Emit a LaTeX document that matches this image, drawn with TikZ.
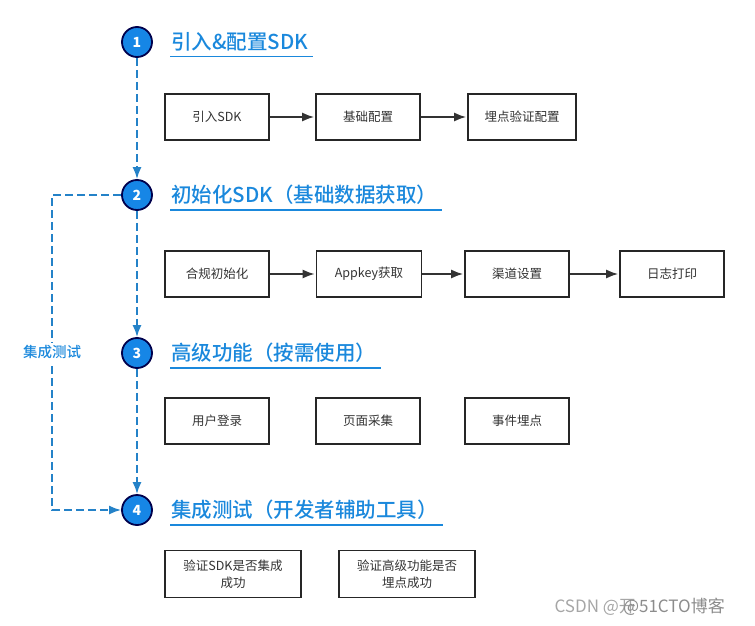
\documentclass[tikz,border=0pt]{standalone}
\usepackage{fontspec}
\setmainfont{Noto Sans CJK SC}
\newfontfamily\headfont{Noto Sans CJK SC}[UprightFont=* Medium]
\usetikzlibrary{positioning, arrows.meta, calc}
\definecolor{stepblue}{RGB}{22,134,230}
\definecolor{linkblue}{RGB}{26,136,220}
\definecolor{dashblue}{RGB}{36,130,200}
\begin{document}
\begin{tikzpicture}[x=1pt, y=-1pt,
    num/.style={circle, draw=black!70!blue, line width=1.8pt, fill=stepblue, minimum size=30pt, inner sep=0pt, text=white, font=\fontsize{14}{14}\selectfont\bfseries},
    title/.style={anchor=west, text=linkblue, font=\headfont\fontsize{20.5}{20.5}\selectfont, inner sep=1pt},
    box/.style={draw=black!85, line width=1.7pt, minimum width=104pt, minimum height=46pt, text=black!80, font=\fontsize{12.5}{17}\selectfont, align=center},
    flow/.style={-{Latex[length=12pt,width=9pt]}, line width=1.7pt, black!80, shorten >=1pt},
    link/.style={dash pattern=on 8pt off 4pt, line width=1.8pt, dashblue, -{Latex[length=12pt,width=9pt]}}]
    \useasboundingbox (0,0) rectangle (755,626);

    % steps
    \node (N1) [num] at (137,42) {1};
    \node (N2) [num] at (137,195) {2};
    \node (N3) [num] at (137,353) {3};
    \node (N4) [num] at (137,510) {4};
    \node (T1) [title] at (170,42) {引入\&配置SDK};
    \node (T2) [title] at (170,195) {初始化SDK（基础数据获取）};
    \node (T3) [title] at (170,353) {高级功能（按需使用）};
    \node (T4) [title] at (170,510) {集成测试（开发者辅助工具）};
    \foreach \t in {T1,T2,T3,T4}
        \draw [linkblue, line width=1.8pt] ($(\t.south west)+(0,4)$) -- ($(\t.south east)+(4,4)$);

    % row 1
    \node (Sdk) [box] at (217,117) {引入SDK};
    \node (Base) [box] at (368,117) {基础配置};
    \node (Track) [box, minimum width=108pt] at (522,117) {埋点验证配置};
    \draw [flow] (Sdk) -- (Base);
    \draw [flow] (Base) -- (Track);

    % row 2
    \node (Init) [box] at (217,274) {合规初始化};
    \node (Appkey) [box, minimum width=105pt] at (369,274) {Appkey获取};
    \node (Channel) [box] at (517,274) {渠道设置};
    \node (Log) [box] at (672,274) {日志打印};
    \draw [flow] (Init) -- (Appkey);
    \draw [flow] (Appkey) -- (Channel);
    \draw [flow] (Channel) -- (Log);

    % row 3
    \node (Login) [box] at (217,421) {用户登录};
    \node (Page) [box] at (368,421) {页面采集};
    \node (Event) [box] at (517,421) {事件埋点};

    % row 4
    \node (CheckSdk) [box, minimum width=136pt, minimum height=47pt] at (233,574) {验证SDK是否集成\\成功};
    \node (CheckAdv) [box, minimum width=136pt, minimum height=47pt] at (407,574) {验证高级功能是否\\埋点成功};

    % dashed links
    \draw [link] (N1) -- (N2);
    \draw [link] (N2) -- (N3);
    \draw [link] (N3) -- (N4);
    \draw [link] (N2.west) -- ++(-69,0) |- node[pos=0.25, fill=white, text=linkblue, inner sep=3pt, font=\headfont\fontsize{14.5}{14.5}\selectfont] {集成测试} (N4.west);

    % watermark
    \node (Mark) [anchor=west, text=black!35, font=\fontsize{17}{17}\selectfont] at (551,607) {CSDN @开};
    \node [anchor=west, text=black!45, font=\fontsize{17}{17}\selectfont] at ($(Mark.east)+(-20,0)$) {@51CTO博客};
\end{tikzpicture}
\end{document}
